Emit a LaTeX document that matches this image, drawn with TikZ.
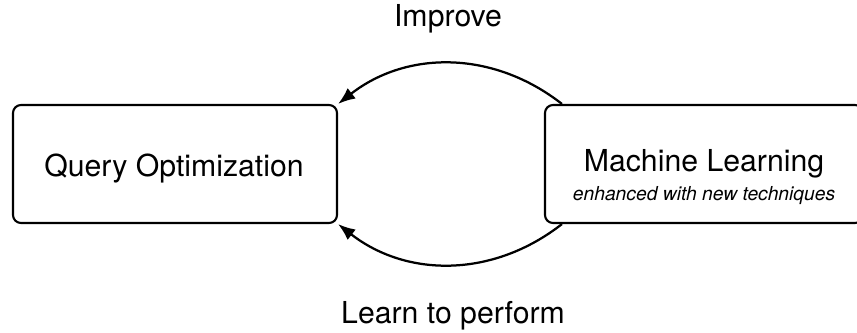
\documentclass[tikz,border=0pt]{standalone}
\usepackage{fontspec}
\setmainfont{TeX Gyre Heros}
\usetikzlibrary{arrows.meta,positioning}
\tikzset{
	stage/.style={draw, rounded corners=0.2cm, line width=1.5pt, minimum height=2.95cm},
	flow/.style={line width=1.6pt, -{Latex[length=4.3mm,width=3.3mm]}},
	bigtext/.style={font=\fontsize{21.5}{25}\selectfont, inner sep=0pt, anchor=base},
}

\begin{document}
\begin{tikzpicture}
			\useasboundingbox (0,0) rectangle (21.425,8.3);

			% Boxes
			\node[stage, minimum width=8.1cm] (QO) at (4.375,4.2) {};
			\node[stage, minimum width=7.95cm] (ML) at (17.6,4.2) {};

			% Box texts
			\node[bigtext] (qoText) at (4.35,3.88) {Query Optimization};
			\node[bigtext] (mlText) at (17.6,4.01) {Machine Learning};
			\node[font=\fontsize{13.7}{16}\selectfont\itshape, inner sep=0pt, anchor=base] (mlSub) at (17.6,3.3) {enhanced with new techniques};

			% Arcs
			\draw[flow] ([xshift=0.45cm]ML.north west) to[bend right=38] (QO.north east);
			\draw[flow] ([xshift=0.45cm]ML.south west) to[bend left=38] (QO.south east);

			% Arc labels
			\node[bigtext] (improve) at (11.2,7.63) {Improve};
			\node[bigtext] (learn) at (11.325,0.22) {Learn to perform};
		\end{tikzpicture}
\end{document}
